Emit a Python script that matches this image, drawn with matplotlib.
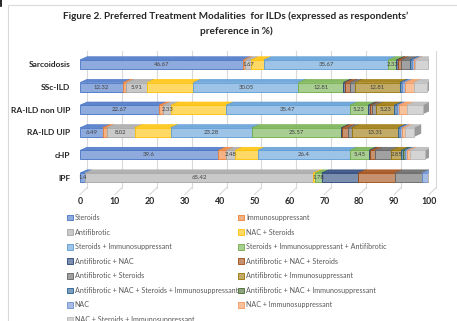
import matplotlib
matplotlib.use("Agg")
import matplotlib.pyplot as plt
import matplotlib.colors as mcolors
import numpy as np
from matplotlib.patches import Patch, Rectangle
from matplotlib.lines import Line2D

plt.rcParams['font.family'] = ['Lato', 'DejaVu Sans']

enfermedades = ['Sarcoidosis', 'SSc-ILD', 'RA-ILD non UIP', 'RA-ILD UIP', 'cHP', 'IPF']

tratamientos = [
    'Steroids', 'Immunosuppressant', 'Antifibrotic', 'NAC + Steroids',
    'Steroids + Immunosuppressant', 'Steroids + Immunosuppressant + Antifibrotic',
    'Antifibrotic + NAC', 'Antifibrotic + NAC + Steroids', 'Antifibrotic + Steroids',
    'Antifibrotic + Immunosuppressant', 'Antifibrotic + NAC + Steroids + Immunosuppressant',
    'Antifibrotic + NAC + Immunosuppressant', 'NAC', 'NAC + Immunosuppressant',
    'NAC + Steroids + Immunosuppressant',
]

# porcentajes por enfermedad (mismo orden que tratamientos)
sarcoidosis = [46.67, 0.67, 1.67, 3.67, 35.67, 2.33, 0.33, 1.0, 2.67, 0, 0.33, 0, 0.67, 0.33, 3.67]
ssc_ild = [12.32, 0.99, 5.91, 13.30, 30.05, 12.81, 0.49, 1.48, 1.48, 12.81, 0.49, 0, 0.99, 2.46, 3.94]
ra_no_uip = [22.67, 1.16, 2.33, 15.70, 35.47, 5.23, 0.58, 0.58, 1.16, 5.23, 0.58, 0, 0.58, 2.33, 4.65]
ra_uip = [6.49, 1.15, 8.02, 10.31, 23.28, 25.57, 0.38, 1.53, 1.15, 13.31, 0.38, 0, 0.76, 0.76, 2.67]
chp = [39.6, 2.3, 2.48, 6.5, 26.4, 5.45, 0.5, 1.2, 4.75, 2.85, 0.5, 0.5, 0.8, 0.6, 4.5]
ipf = [1.4, 0, 65.42, 0.6, 0, 1.78, 10.5, 10.5, 7.8, 0, 0, 0, 1.8, 0, 0]

# series con etiqueta de datos
con_etiqueta = [0, 2, 4, 5, 9]

colores_base = ['#4472C4', '#ED7D31', '#A5A5A5', '#FFC000', '#5B9BD5', '#70AD47',
                '#264478', '#9E480E', '#636363', '#997300', '#255E91', '#43682B',
                '#698ED0', '#F1975A', '#B7B7B7']


def aclarar(c, f):
    r = np.array(mcolors.to_rgb(c))
    return tuple(r + (1 - r) * f)


caras = [aclarar(c, 0.4) for c in colores_base]
techos = [aclarar(c, 0.15) for c in colores_base]

datos = np.array([sarcoidosis, ssc_ild, ra_no_uip, ra_uip, chp, ipf])

fig = plt.figure(figsize=(4.57, 3.21), dpi=100)
ax = fig.add_axes([80 / 457, 131 / 321, 349 / 457, 138 / 321])

y = np.arange(len(enfermedades))
alto = 0.40
dx, dy = 2.0, 0.14  # profundidad del efecto 3D

# lineas de la grilla en la pared del fondo
for g in range(0, 101, 10):
    ax.plot([g + dx, g + dx], [-0.6, 5.45], color='#D9D9D9', lw=0.8, zorder=0, clip_on=False)
    ax.plot([g, g + dx], [5.75, 5.45], color='#D9D9D9', lw=0.8, zorder=0, clip_on=False)

izq = np.zeros(len(enfermedades))
for k in range(len(tratamientos)):
    vals = datos[:, k]
    ax.barh(y, vals, left=izq, height=alto, color=caras[k], edgecolor=colores_base[k],
            linewidth=0.6, zorder=3)
    for i in range(len(enfermedades)):
        if vals[i] <= 0:
            continue
        x0, x1 = izq[i], izq[i] + vals[i]
        top = y[i] - alto / 2
        ax.fill([x0, x1, x1 + dx, x0 + dx], [top, top, top - dy, top - dy],
                color=techos[k], ec=colores_base[k], lw=0.4, zorder=2)
        if k in con_etiqueta:
            ax.text((x0 + x1) / 2, y[i], f'{vals[i]:g}', ha='center', va='center',
                    fontsize=4.3, color='#404040', zorder=5)
    izq = izq + vals

# cara lateral del final de cada barra
for i in range(len(enfermedades)):
    x1 = izq[i]
    top, bot = y[i] - alto / 2, y[i] + alto / 2
    ax.fill([x1, x1 + dx, x1 + dx, x1], [top, top - dy, bot - dy, bot],
            color='#9A9A9A', lw=0, zorder=2)

ax.set_xlim(0, 100)
ax.set_ylim(5.55, -0.55)
ax.set_yticks(y)
ax.set_yticklabels(enfermedades, fontsize=6.0, fontweight='bold', color='#262626')
ax.set_xticks(np.arange(0, 101, 10))
ax.set_xticklabels([str(v) for v in range(0, 101, 10)], fontsize=6.3, fontweight='bold',
                   color='#262626')
ax.tick_params(length=0)
ax.tick_params(axis='x', pad=5)
ax.tick_params(axis='y', pad=7)
for s in ax.spines.values():
    s.set_visible(False)
ax.patch.set_alpha(0)

fig.text(236 / 457, 1 - 16 / 321,
         'Figure 2. Preferred Treatment Modalities  for ILDs (expressed as respondents\u2019',
         ha='center', va='center', fontsize=7.2, fontweight='bold', color='#262626')
fig.text(236 / 457, 1 - 31 / 321, 'preference in %)', ha='center', va='center',
         fontsize=7.2, fontweight='bold', color='#262626')

manejadores = [Patch(facecolor=caras[k], edgecolor=colores_base[k], linewidth=0.6,
                     label=tratamientos[k]) for k in range(len(tratamientos))]
# orden por filas como en Excel
orden = list(range(0, 15, 2)) + list(range(1, 15, 2))
leg = fig.legend([manejadores[k] for k in orden], [tratamientos[k] for k in orden],
                 ncol=2, loc='upper left', bbox_to_anchor=(67 / 457, 1 - 214 / 321),
                 frameon=False, fontsize=5.15, handlelength=0.85, handleheight=0.85,
                 handletextpad=0.25, columnspacing=0.0, labelspacing=1.06,
                 borderaxespad=0, borderpad=0)
for t in leg.get_texts():
    t.set_color('#595959')

# borde del area del grafico
fig.patches.append(Rectangle((8 / 457, -0.1), 1.0, 1 - 5 / 321 + 0.1, transform=fig.transFigure,
                             fill=False, edgecolor='#D9D9D9', linewidth=0.8))
fig.add_artist(Line2D([1 / 457, 1 / 457], [1, 1 - 6 / 321], color='black', lw=1.2))

fig.savefig('out.png', dpi=100)
